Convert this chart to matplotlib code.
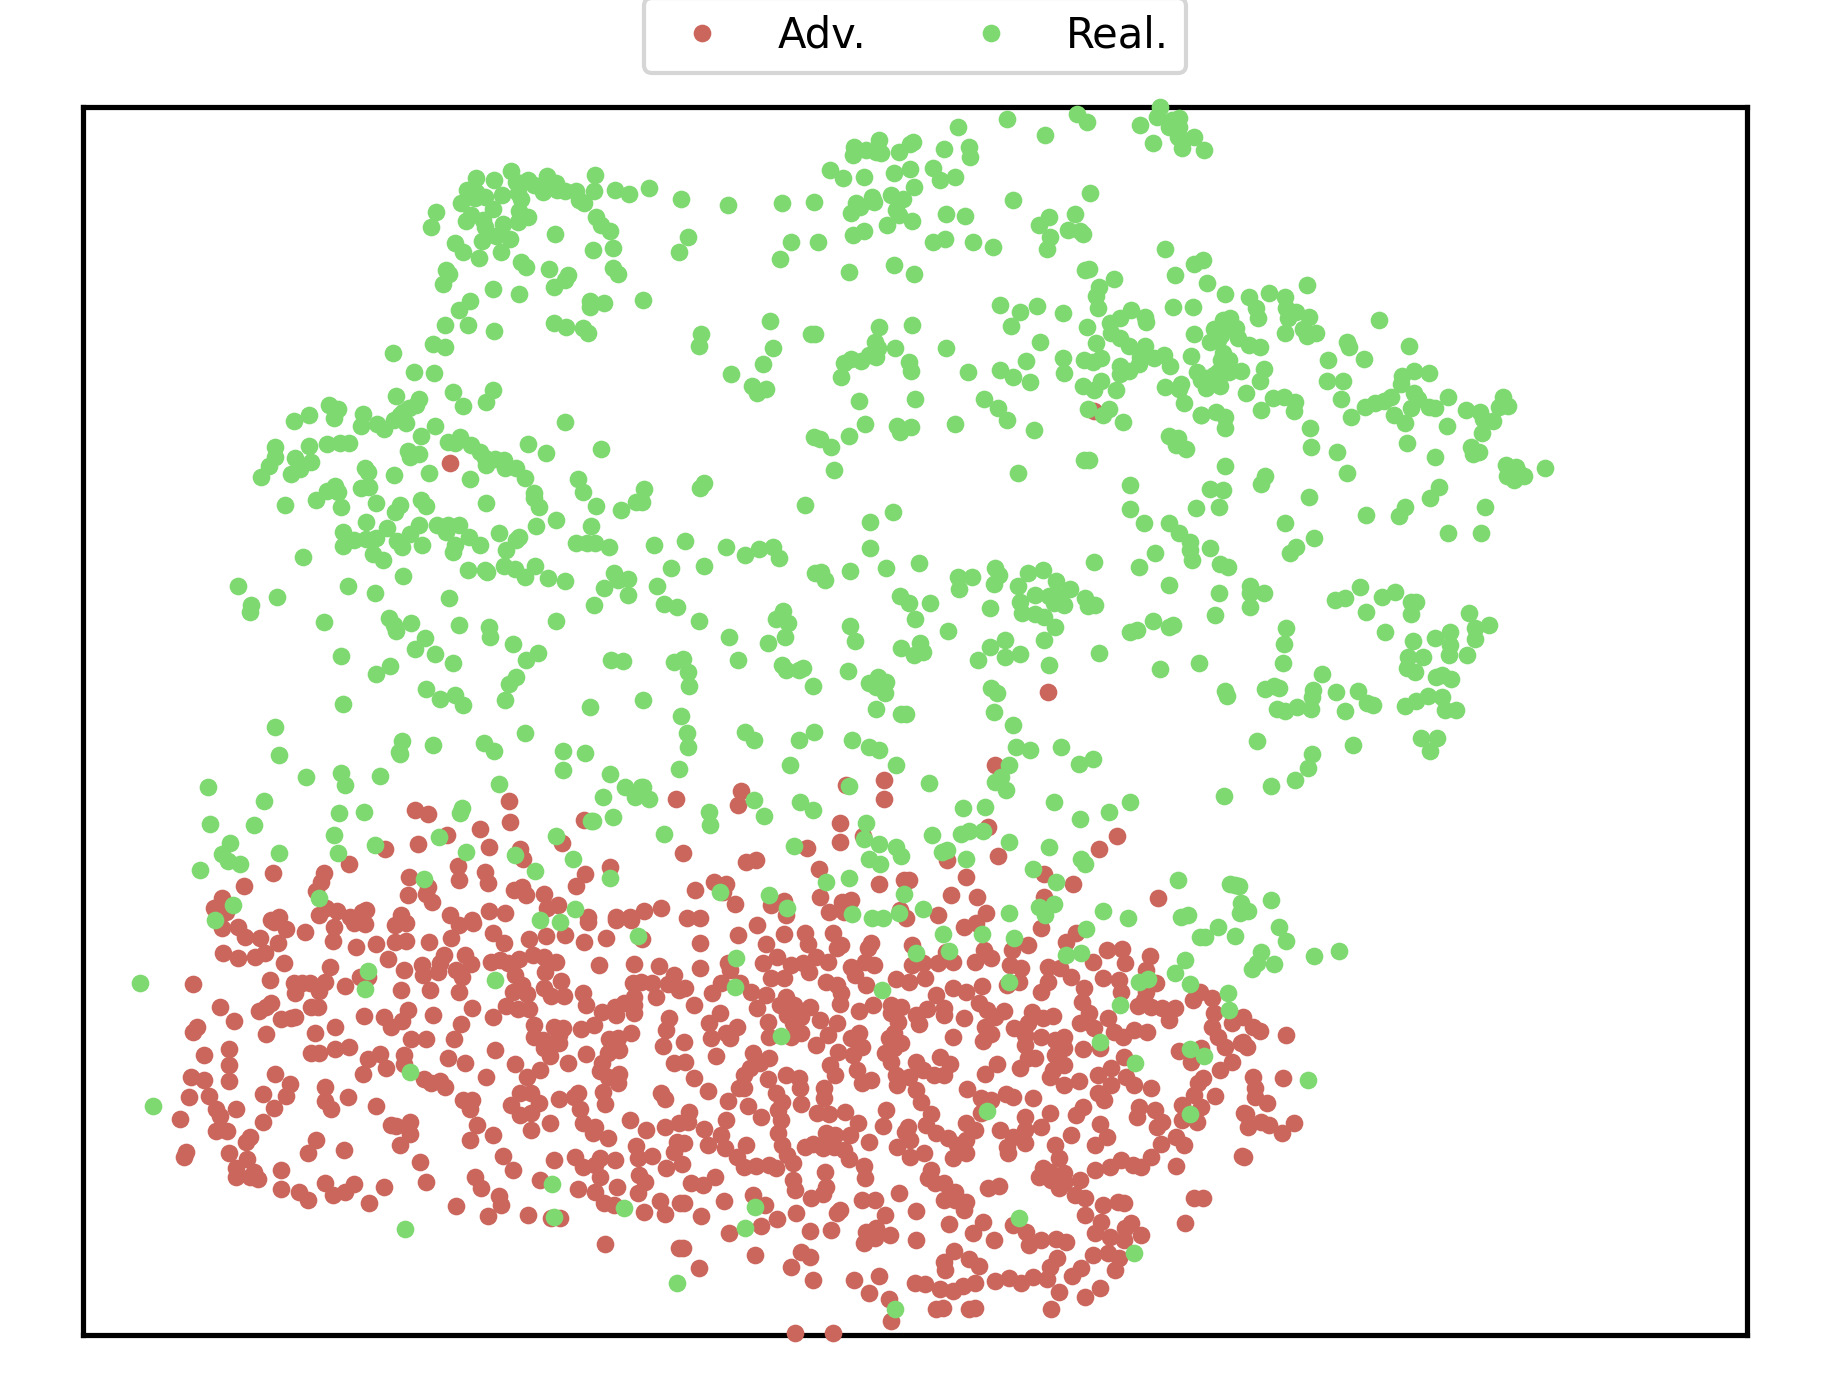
import numpy as np
import matplotlib
matplotlib.use('Agg')
import matplotlib.pyplot as plt

# points, one block per region, in region pixels
real_upper_left = [(1207,213),(1109,235),(1160,240),(1255,240),(1220,245),(1235,250),(1308,228),(1332,250),(1443,225),(1083,270),(1110,275),(1440,273),(1498,270),(1538,283),(1390,272),(1358,273),(1335,270),(1295,277),(1270,255),(1182,285),(1135,290),(1105,295),(1067,310),(1225,280),(1235,297),(1397,300),(1410,310),(997,336),(984,382),(1157,327),(1230,332),(1253,350),(1225,366),(1095,345),(1081,364),(1128,360),(1135,380),(1183,373),(1445,350),(1458,375),(1485,394),(1330,403),(1165,408),(1126,423),(1205,417),(1050,430),(1073,457),(1118,473),(1180,456),(1435,451),(1491,443),(1235,486),(1250,500),(1312,508),(1492,503),(1505,523),(1025,510),(1033,522),(1015,553),(1365,525),(1357,541),(1328,562),(1157,568),(1228,583),(1093,604),(1062,631),(1427,603),(1427,620),(1468,610),(1023,676),(1085,676),(1160,694),(1328,670),(1362,682),(1408,685),(1421,700),(987,733),(1022,742),(875,760),(936,817),(990,820),(1045,877),(1155,871),(1137,905),(1073,919),(885,888),(948,897),(940,915),(920,925),(905,935),(895,945),(880,960),(913,968),(697,915),(722,926),(712,953),(640,946),(600,962),(793,941),(787,977),(832,973),(852,987),(1357,967),(995,978),(955,1008),(1065,1012),(1050,1028),(1030,1027),(1095,1035),(1120,1055),(1135,1075),(1162,1078),(1186,1080),(1137,1095),(1190,1105),(1222,1105),(1247,1135),(1253,1033),(1305,1060),(1460,1048),(547,1040),(547,1070),(640,1038),(692,1033),(727,1030),(752,1030),(603,1075),(647,1087),(528,1098),(617,1107),(590,1122),(507,1132),(918,1052),(948,1062),(925,1070),(797,1105),(805,1115),(878,1126),(978,1120),(1093,1138),(1395,1137),(1407,1177),(1272,1178),(1270,1195),(1285,1222),(1137,1210),(715,1158),(692,1173),(722,1177),(787,1163),(808,1161),(660,1200),(575,1216),(731,1222),(830,1210),(897,1215),(882,1235),(955,1200),(970,1217),(1445,1219),(1515,1231),(1557,1207)]
adv_upper_left = [(1037,1090)]

real_upper_mid = [(1457,22),(1223,42),(1252,65),(1447,50),(1028,58),(891,82),(1135,106),(1400,76),(1490,60),(1510,55),(1480,80),(1510,80),(1505,110),(1550,112),(1435,130),(1518,143),(1520,120),(1578,150),(670,120),(600,140),(634,150),(597,165),(660,157),(675,158),(726,157),(765,127),(755,132),(852,148),(922,140),(925,170),(532,211),(567,235),(628,232),(710,220),(755,208),(819,205),(840,241),(881,232),(24,265),(115,298),(247,316),(398,310),(486,307),(766,262),(703,285),(735,297),(650,290),(655,305),(605,310),(615,320),(592,338),(718,330),(725,345),(692,376),(762,364),(857,343),(910,349),(1045,301),(1261,280),(1146,351),(1118,376),(1217,343),(1198,390),(1232,393),(1240,402),(1148,410),(1140,446),(135,412),(108,457),(423,427),(497,427),(393,478),(597,405),(627,393),(819,427),(855,418),(931,427),(987,442),(1471,448),(584,517),(710,496),(768,522),(1498,526),(1552,492),(1575,480),(1245,511),(1258,508),(1328,538),(1284,560),(1277,587),(1281,623),(8,601),(1007,616),(1065,637),(1112,619),(1185,640),(1493,622),(1547,622),(1039,677),(1252,682),(1375,630),(1345,655),(1317,670),(1415,650),(1417,665),(1552,703),(365,664),(171,702),(164,737),(670,682),(762,676),(478,703),(490,703),(658,727),(715,745),(371,745),(857,743),(1121,727),(1277,730),(1320,700),(1345,715),(1370,737),(1415,738),(1467,765),(1438,775),(1400,770),(1543,769),(345,793),(572,790),(590,778),(620,782),(640,765),(662,770),(665,745),(752,785),(760,813),(1080,784),(1183,773),(1243,780),(1268,785),(1290,775),(1345,797),(1343,822),(1370,812),(1398,792),(1485,797),(1560,815),(255,823),(564,832),(917,817),(1009,810),(1043,830),(1093,845),(1188,818),(1241,859),(1272,870),(1290,843),(1333,871),(1470,862),(1515,853),(1510,868),(1524,908),(1570,840),(314,857),(328,878),(354,868),(612,904),(771,898),(962,897),(1001,925),(1028,961),(1255,928),(1313,927),(1297,945),(1353,967),(1570,945),(631,973),(719,978),(727,995),(760,982),(881,973),(1104,991),(1482,1008),(1505,1015),(1500,1035),(1530,1048),(486,1012),(505,1018),(536,1042),(586,1008),(544,1111),(1243,1081),(1256,1081),(1057,1120),(1373,1156),(180,1150),(169,1163),(10,1167),(5,1205),(463,1216),(707,1235),(1373,1228),(1558,1225)]
adv_upper_mid = [(1272,932)]

real_upper_right = [(300,130),(351,163),(416,172),(474,160),(580,136),(518,172),(520,205),(525,235),(550,215),(585,232),(517,278),(437,205),(443,235),(568,267),(580,287),(606,280),(782,241),(692,305),(697,320),(637,360),(740,358),(864,319),(365,235),(345,240),(380,265),(318,268),(350,265),(340,285),(330,300),(308,305),(385,293),(418,315),(447,322),(345,340),(360,360),(338,360),(330,395),(362,395),(395,392),(320,405),(335,437),(297,445),(300,415),(458,387),(449,423),(409,460),(483,474),(515,470),(547,487),(452,511),(542,512),(283,526),(325,516),(350,530),(350,563),(636,424),(679,424),(676,478),(704,532),(742,502),(770,488),(795,482),(815,472),(845,408),(878,393),(920,400),(842,432),(878,458),(890,478),(872,505),(922,500),(938,503),(973,472),(1026,511),(1063,515),(1072,538),(1100,542),(1127,470),(1118,500),(1143,498),(824,525),(853,548),(972,558),(1070,580),(589,565),(592,622),(664,637),(860,610),(939,652),(1040,622),(1045,643),(1060,637),(350,679),(692,700),(1137,675),(1165,680),(1140,708),(1160,720),(1187,707),(1170,695),(1245,685),(463,708),(451,733),(345,751),(309,748),(332,801),(586,772),(948,740),(925,775),(1077,802),(853,802),(838,827),(745,826),(519,850),(975,880),(1067,880),(600,895),(550,920),(533,938),(309,925),(335,972),(357,982),(421,1038),(420,1058),(458,1060),(334,1060),(421,1100),(322,1126),(729,1042),(659,1080),(687,1075),(790,1072),(827,1057),(745,1117),(870,1085),(885,1085),(870,1122),(799,1177),(521,1165),(514,1213),(1034,1120),(1088,1156),(1050,1165),(1050,1197),(875,1203),(937,1195),(981,1175),(980,1215),(977,1245),(1028,1245),(863,1250),(905,1250)]

real_mid_left = [(800,5),(950,15),(860,25),(735,37),(925,42),(768,60),(735,77),(800,57),(830,55),(888,62),(902,80),(958,75),(1000,15),(1030,15),(1060,15),(1025,35),(1088,52),(1050,75),(1043,95),(1120,76),(1173,40),(1193,90),(1230,50),(1222,60),(1278,18),(1333,0),(1430,18),(1388,70),(1420,68),(1442,70),(1480,80),(623,112),(820,103),(847,121),(905,169),(1085,151),(1135,150),(1140,157),(1186,138),(1217,148),(1247,170),(1275,138),(1311,175),(1357,184),(1495,160),(1505,180),(1535,178),(1468,203),(1533,226),(1438,256),(441,199),(552,232),(749,199),(827,220),(1032,235),(480,255),(477,275),(684,307),(866,295),(880,315),(885,332),(928,310),(1060,316),(1146,320),(1149,350),(1334,304),(965,354),(939,388),(995,403),(1043,430),(1211,373),(1281,400),(1250,421),(1488,421),(1520,424),(732,409),(869,439),(830,463),(1221,472),(1200,493),(970,508),(1009,538),(1050,525),(1071,556),(1191,539),(1429,562),(735,553),(545,622),(558,706),(1247,640),(902,664),(893,695),(895,703),(987,676),(1130,670),(1158,694),(1351,694),(1415,700),(1351,751),(732,760),(741,794),(633,772),(841,769),(1172,793),(1485,763),(1527,802),(1463,832),(1555,830),(1570,800),(357,802),(516,844),(724,880),(794,877),(1070,865),(1063,880),(365,913),(486,916),(1430,903),(1435,903),(1491,892),(421,968),(710,946),(1004,951),(1333,948),(397,1003),(415,1022),(449,1033),(556,1000),(721,1000),(825,976),(1081,997),(1217,1006),(1379,1018),(337,1051),(1275,1054),(962,1078),(1485,1075),(670,1135),(427,1156),(1385,1168)]
adv_mid_left = [(937,871),(973,883),(1200,844),(1205,907),(1121,928),(1027,945),(1410,900),(945,972),(1144,982),(854,988),(1232,988),(1350,970),(752,1033),(1240,1018),(539,1060),(682,1060),(676,1085),(1057,1039),(1133,1056),(1483,1040),(1413,1063),(460,1099),(922,1072),(1060,1081),(1141,1090),(975,1100),(1390,1099),(662,1112),(1216,1110),(1237,1100),(1250,1126),(917,1126),(968,1123),(1298,1123),(985,1147),(1337,1155),(1307,1163),(398,1135),(375,1165),(410,1175),(690,1165),(720,1172),(800,1170),(790,1175),(1144,1174),(1190,1180),(900,1184),(1037,1185),(558,1190),(757,1190),(670,1185),(1423,1190),(1502,1190),(1540,1190),(1098,1200),(535,1200)]

real_mid_centre = [(38,76),(125,64),(241,81),(295,105),(334,88),(372,82),(388,115),(88,145),(180,138),(48,199),(68,252),(104,260),(164,304),(250,352),(357,370),(273,421),(94,427),(120,418),(133,455),(136,497),(400,273),(382,298),(415,310),(407,350),(398,435),(408,450),(445,450),(457,445),(483,499),(8,541),(643,5),(643,85),(490,160),(508,155),(517,180),(587,154),(690,145),(780,130),(589,319),(603,364),(581,452),(640,490),(665,470),(690,485),(660,500),(685,518),(662,568),(730,583),(745,583),(729,229),(752,248),(811,248),(771,298),(861,333),(731,385),(783,370),(793,395),(768,405),(995,145),(1005,165),(890,172),(929,172),(894,207),(990,193),(979,265),(1085,160),(1128,151),(1058,197),(1105,225),(1165,184),(1205,208),(1245,235),(1255,257),(1275,256),(1187,255),(1160,250),(1175,230),(1145,228),(1063,247),(1070,278),(1105,283),(1130,290),(1163,320),(1130,361),(1022,361),(979,381),(945,421),(1023,412),(1063,403),(1144,436),(1272,127),(1410,10),(1480,10),(1510,40),(1540,65),(1540,90),(1545,120),(1443,100),(1397,142),(1482,196),(1435,304),(1392,330),(1372,335),(1480,320),(1492,316),(1284,400),(1457,448),(1565,430),(116,589),(132,638),(133,681),(110,748),(293,637),(318,661),(444,661),(486,637),(421,736),(594,661),(642,682),(670,691),(717,736),(586,798),(810,790),(983,505),(1000,520),(990,577),(1043,616),(1053,680),(1093,691),(1180,682),(1034,736),(1228,733),(1267,718),(1010,770),(995,785),(1025,811),(8,800),(25,837),(320,841),(192,876),(197,916),(346,889),(449,847),(483,871),(68,943),(633,910),(627,957),(668,973),(717,982),(732,1008),(640,1018),(672,1033),(432,979),(818,946),(900,943),(922,933),(960,932),(903,865),(965,862),(1158,845),(1233,898),(1312,877),(1373,847),(1032,967),(1144,982),(845,997),(860,990),(913,1018),(1236,1018),(1247,1033),(1099,1048),(1165,1087),(1507,1081),(586,1075),(521,1087),(360,1126),(412,1163),(223,1115),(738,1123),(793,1168),(1118,1160),(1158,1152),(1133,1185),(1295,1172),(1034,1180),(594,1182),(650,1195),(680,1195),(725,1180),(1365,1195),(1515,1190),(1535,1185)]
adv_mid_centre = [(1141,517),(993,736),(684,781),(684,838),(578,795),(283,813),(275,856),(101,837),(561,910),(561,966),(625,948),(468,985),(119,1000),(297,1027),(325,1021),(502,1048),(975,920),(1003,1009),(860,1020),(1132,1062),(1213,1093),(1336,949),(1284,988),(1451,1133),(739,1081),(752,1079),(668,1093),(913,1072),(871,1126),(944,1132),(208,1087),(242,1093),(232,1115),(155,1111),(266,1152),(505,1132),(565,1147),(590,1140),(403,1142),(368,1155),(1130,1130),(60,1165),(12,1173),(132,1195),(168,1195),(408,1185),(530,1175),(570,1175),(727,1170),(745,1195),(835,1185),(968,1178)]

real_mid_right = [(250,10),(620,25),(645,35),(367,42),(75,93),(82,108),(195,88),(222,78),(237,85),(338,90),(337,110),(232,147),(255,152),(290,142),(332,147),(408,97),(475,93),(500,128),(518,135),(436,153),(708,52),(727,45),(752,58),(615,137),(647,123),(683,108),(727,110),(735,150),(767,151),(663,234),(710,234),(690,272),(172,244),(459,255),(337,282),(325,325),(286,360),(214,379),(73,409),(90,672),(105,675),(118,677),(123,728),(120,760),(145,753),(214,721)]

real_lower_left = [(57,190),(695,153),(687,208),(1051,181),(813,457),(91,559),(1450,48),(1210,793),(1410,865),(1214,892),(799,928),(1560,1090),(1175,0),(1233,5),(265,0)]
adv_lower_left = [(285,25),(330,20),(350,50),(393,55),(430,5),(465,28),(441,68),(518,35),(598,20),(595,62),(655,10),(685,12),(662,82),(770,15),(800,10),(717,72),(770,65),(800,62),(865,67),(928,55),(950,15),(988,8),(1045,40),(1075,70),(1146,58),(1193,47),(1247,46),(1300,67),(1361,55),(1310,5),(1390,0),(1430,0),(1462,58),(287,100),(330,115),(378,112),(407,100),(460,130),(589,140),(750,118),(795,150),(845,135),(847,165),(908,105),(895,130),(890,155),(967,105),(982,133),(940,150),(957,170),(1040,127),(1065,120),(1085,130),(1118,118),(1155,105),(1187,110),(1222,125),(1190,155),(1340,136),(1440,133),(1510,138),(1552,165),(672,170),(695,170),(421,181),(205,193),(487,190),(510,190),(532,190),(575,185),(490,220),(558,212),(631,198),(787,211),(869,210),(948,217),(1105,165),(1125,195),(1100,215),(1140,222),(1187,205),(1207,227),(1243,227),(1235,183),(1435,190),(1460,185),(1490,190),(1533,193),(1565,210),(1297,220),(1305,255),(1502,232),(1440,230),(281,262),(424,250),(408,262),(390,272),(535,260),(555,262),(805,270),(985,265),(1080,258),(1115,268),(1145,268),(1349,277),(1390,285),(1385,260),(1410,250),(1440,255),(1440,278),(682,289),(738,292),(875,286),(1043,291),(320,304),(450,297),(480,295),(490,292),(790,303),(760,320),(956,313),(1158,315),(1328,316),(1292,327),(1537,295),(1215,320),(1240,325),(215,320),(205,335),(603,322),(409,343),(545,340),(1530,330),(1230,345),(1432,340),(816,358),(857,357),(936,358),(1158,352),(1185,360),(1368,358),(1395,355),(1230,370),(1520,377),(1385,380),(1187,385),(1398,390),(304,388),(236,406),(535,400),(558,400),(603,388),(640,380),(1050,391),(1305,402),(1365,400),(1205,407),(795,405),(727,402),(695,417),(917,415),(304,435),(795,432),(745,445),(965,430),(1105,433),(1253,430),(1552,428),(1350,430),(1345,452),(1175,450),(433,463),(680,463),(1140,472),(1025,472),(1365,470),(1398,462),(1395,488),(200,472),(235,480),(306,482),(852,477),(870,490),(897,483),(911,500),(477,492),(575,500),(1353,515),(1283,518),(399,523),(464,527),(248,527),(192,532),(1120,520),(1150,520),(1516,518),(1525,538),(637,532),(575,543),(1230,538),(1270,530),(1172,550),(960,540),(985,540),(1095,555),(1358,553),(592,568),(717,559),(979,568),(270,568),(325,568),(432,563),(1288,568),(1120,585),(1152,578),(280,588),(169,598),(399,606),(1205,610),(1429,600),(1297,610),(812,607),(760,615),(772,618),(1000,615),(1565,610),(1150,630),(1330,622),(1472,630),(1527,620),(270,632),(300,634),(812,643),(1045,646),(1323,640),(365,650),(352,665),(549,661),(981,661),(1367,655),(1560,665),(785,674),(1445,678),(628,691),(185,695),(178,710),(306,700),(525,700),(1550,697),(1071,709),(1275,711),(1345,715),(1387,720),(1450,715),(1490,708),(356,716),(841,727),(1214,720),(1330,735),(1295,740),(1530,745),(325,745),(375,755),(452,751),(1099,751),(1343,770),(1452,765),(995,770),(325,770),(365,770),(387,777),(1177,779),(575,790),(655,793),(1470,787),(858,787),(738,802),(1012,805),(452,807),(1392,800),(1281,808),(1330,815),(630,817),(502,817),(595,825),(1060,827),(1450,820),(525,841),(696,850),(1066,855),(1513,842),(1355,850),(1382,855),(941,859),(1567,850),(1466,877),(1527,882),(1029,889),(1141,886),(1207,893),(1232,895),(1358,973),(1565,985)]

real_lower_centre = [(157,115),(153,202),(283,349),(209,862),(181,925),(565,211),(735,43),(660,100),(752,92),(846,43),(936,55),(922,187),(1137,28),(1080,105),(1123,100),(1177,366),(1275,430),(859,574),(948,895),(1270,1000),(603,1168),(1427,583),(1429,388),(1468,408),(1285,185),(1310,178),(1233,256),(1429,193),(1387,160),(1415,121),(1455,50),(1470,50),(1505,22),(1555,48),(1535,220),(1538,270)]
adv_lower_centre = [(57,70),(163,45),(216,15),(292,41),(241,72),(349,40),(358,72),(427,40),(452,75),(440,85),(535,70),(525,85),(55,145),(135,130),(140,150),(233,130),(272,110),(310,135),(345,130),(380,110),(415,125),(360,155),(290,175),(255,175),(115,190),(90,218),(15,205),(38,255),(200,215),(168,190),(241,225),(216,265),(298,230),(280,255),(318,255),(365,262),(340,290),(300,285),(113,278),(80,308),(245,307),(315,310),(393,300),(440,310),(160,322),(130,340),(140,355),(87,355),(250,350),(312,352),(340,340),(415,345),(380,375),(12,365),(100,408),(15,425),(203,400),(250,415),(225,430),(195,445),(180,465),(245,478),(38,475),(77,514),(180,505),(165,505),(135,542),(190,558),(298,465),(333,475),(335,505),(268,520),(285,545),(338,552),(275,570),(228,592),(130,600),(283,600),(24,575),(22,605),(68,628),(275,638),(115,645),(125,685),(77,676),(185,675),(12,670),(285,675),(300,705),(160,712),(180,740),(212,737),(250,735),(268,745),(315,728),(5,733),(32,790),(63,795),(97,772),(205,825),(238,855),(124,843),(12,850),(60,889),(272,897),(228,918),(136,940),(317,780),(323,810),(406,755),(408,800),(400,822),(367,835),(325,879),(365,934),(424,931),(8,985),(211,1005),(54,1045),(340,995),(365,1010),(312,1040),(373,1081),(486,1081),(558,1067),(530,1120),(584,1138),(591,1203),(322,1240),(427,1240),(403,505),(403,535),(383,580),(418,583),(462,576),(497,610),(410,640),(435,645),(475,645),(350,680),(372,672),(400,685),(430,680),(460,690),(472,718),(528,665),(515,737),(517,775),(510,840),(547,840),(614,818),(661,873),(575,884),(447,870),(440,880),(520,935),(550,925),(515,968),(545,955),(587,945),(661,961),(577,570),(567,617),(637,620),(645,660),(630,635),(608,682),(645,710),(682,700),(702,582),(690,615),(716,640),(750,655),(775,675),(800,610),(825,630),(800,660),(800,700),(765,713),(703,750),(695,775),(715,790),(740,790),(770,815),(740,840),(770,840),(800,845),(795,870),(752,913),(821,938),(847,905),(878,961),(863,805),(892,798),(804,508),(843,535),(872,540),(843,580),(912,523),(933,530),(987,534),(896,630),(967,592),(965,630),(1012,622),(1035,580),(932,650),(965,670),(915,680),(917,700),(1096,646),(1050,675),(1062,713),(1116,483),(1110,585),(1127,560),(1175,613),(1195,650),(1163,675),(1015,745),(1035,755),(1075,760),(1005,772),(1040,780),(1060,805),(1075,790),(1120,779),(1105,825),(1135,833),(1135,886),(1185,855),(1225,845),(1242,848),(1180,905),(1163,940),(1205,950),(1243,960),(1245,925),(1263,908),(1292,946),(933,915),(968,935),(978,975),(1010,961),(1053,958),(1082,965),(1155,1006),(1197,998),(1230,1015),(1217,1050),(1122,1043),(1098,1068),(1056,1015),(1035,1040),(1027,1077),(987,1071),(955,1090),(920,1075),(882,1083),(1060,1117),(1135,1130),(1175,1103),(1040,1167),(827,1090),(793,1097),(765,1113),(727,1106),(687,1092),(659,1088),(766,992),(740,1025),(742,1050),(810,1018),(838,1037),(716,1167),(735,1165),(808,1167),(827,1165),(480,140),(490,165),(520,195),(543,135),(518,125),(410,185),(440,195),(450,220),(448,253),(540,255),(502,273),(605,178),(640,185),(685,175),(650,135),(680,130),(722,130),(765,125),(650,75),(745,95),(825,125),(870,115),(850,90),(975,75),(930,90),(925,135),(955,145),(950,185),(915,195),(765,205),(800,215),(845,198),(717,225),(740,265),(740,285),(794,293),(692,268),(660,285),(668,312),(590,255),(620,260),(590,280),(610,305),(600,340),(585,355),(620,370),(600,385),(575,400),(590,425),(605,465),(608,495),(640,470),(660,425),(680,450),(710,465),(740,465),(755,432),(728,412),(660,510),(675,545),(500,340),(480,355),(510,380),(485,405),(443,395),(420,435),(433,465),(495,450),(510,490),(535,480),(765,352),(838,250),(860,270),(908,272),(855,320),(870,342),(847,362),(882,290),(887,433),(855,463),(953,445),(975,415),(995,415),(935,323),(965,345),(965,375),(985,275),(1015,295),(1045,287),(975,310),(1010,350),(1050,360),(1075,350),(1075,385),(1050,405),(1075,435),(1045,450),(1035,470),(1075,495),(1127,387),(1010,215),(1030,185),(1095,170),(1030,140),(1065,145),(1080,65),(1110,40),(1012,25),(795,22),(830,10),(1157,125),(1185,175),(1130,205),(1125,245),(1145,280),(1120,310),(1197,295),(1160,325),(1215,335),(1240,350),(1272,330),(1307,337),(1175,385),(1195,90),(1237,88),(1247,130),(1315,107),(1305,150),(1230,180),(1235,215),(1333,190),(1305,215),(1300,240),(1282,258),(1320,260),(1350,265),(1385,265),(1370,300),(1242,412),(1207,445),(1170,465),(1208,495),(1248,470),(1272,495),(1320,505),(1170,518),(1188,540),(1285,560),(1280,590),(1330,570),(1350,605),(1336,620),(1397,392),(1430,425),(1460,385),(1455,215),(1437,240),(1490,235),(1495,280),(1490,320),(1505,350),(1527,380),(1545,310),(1545,425),(1513,450),(1570,370),(1465,475),(1450,490),(1440,525),(1497,528),(1405,555),(1458,560),(1405,600),(1447,605),(1578,580),(1578,710),(1390,650),(1347,672),(1410,675),(1320,712),(1290,740),(1267,735),(1235,720),(1205,742),(1162,751),(1390,738),(1440,835),(1465,835),(1415,910)]

real_lower_right = [(238,22),(259,64),(184,97),(223,133),(170,130),(155,148),(343,108),(418,94),(325,481)]
adv_lower_right = [(130,292),(160,320),(180,332),(130,365),(140,380),(259,346),(160,472),(250,474),(165,503),(165,530),(202,550),(137,582),(145,620),(183,605),(208,615),(245,640),(283,610),(127,709)]


def place(points, x0, y0, sx=2.8, sy=3.0):
    # region pixels back to the coordinates of the whole chart
    pts = np.array(points, dtype=float)
    return np.column_stack((x0 + pts[:, 0] / sx, y0 + pts[:, 1] / sy))


adv = np.vstack([
    place(adv_upper_left, 80, 100),
    place(adv_upper_mid, 640, 100),
    place(adv_mid_left, 80, 520),
    place(adv_mid_centre, 640, 520),
    place(adv_lower_left, 120, 920),
    place(adv_lower_centre, 680, 920),
    place(adv_lower_right, 1200, 920, 3.0),
])
real = np.vstack([
    place(real_upper_left, 80, 100),
    place(real_upper_mid, 640, 100),
    place(real_upper_right, 1100, 240),
    place(real_mid_left, 80, 520),
    place(real_mid_centre, 640, 520),
    place(real_mid_right, 1200, 660, 3.0),
    place(real_lower_left, 120, 920),
    place(real_lower_centre, 680, 920),
    place(real_lower_right, 1200, 920, 3.0),
])

W, H = 1830, 1396
fig = plt.figure(figsize=(W / 300, H / 300), dpi=300)
ax = fig.add_axes([83 / W, 1 - 1335 / H, (1747 - 83) / W, (1335 - 107) / H])

ax.scatter(adv[:, 0], adv[:, 1], s=18, c='#CB665C', linewidths=0, label='Adv.', clip_on=False, zorder=3)
ax.scatter(real[:, 0], real[:, 1], s=18, c='#7FD971', linewidths=0, label='Real.', clip_on=False, zorder=4)

ax.set_xlim(83, 1747)
ax.set_ylim(1335, 107)
ax.set_xticks([])
ax.set_yticks([])
for side in ax.spines.values():
    side.set_linewidth(1.25)

leg = ax.legend(loc='lower center', bbox_to_anchor=(0.5, 1.0275), ncol=2, borderaxespad=0,
                fontsize=10, scatterpoints=1, scatteryoffsets=[0.5])
leg.get_frame().set_linewidth(1.0)

fig.savefig('out.png', dpi=300)
